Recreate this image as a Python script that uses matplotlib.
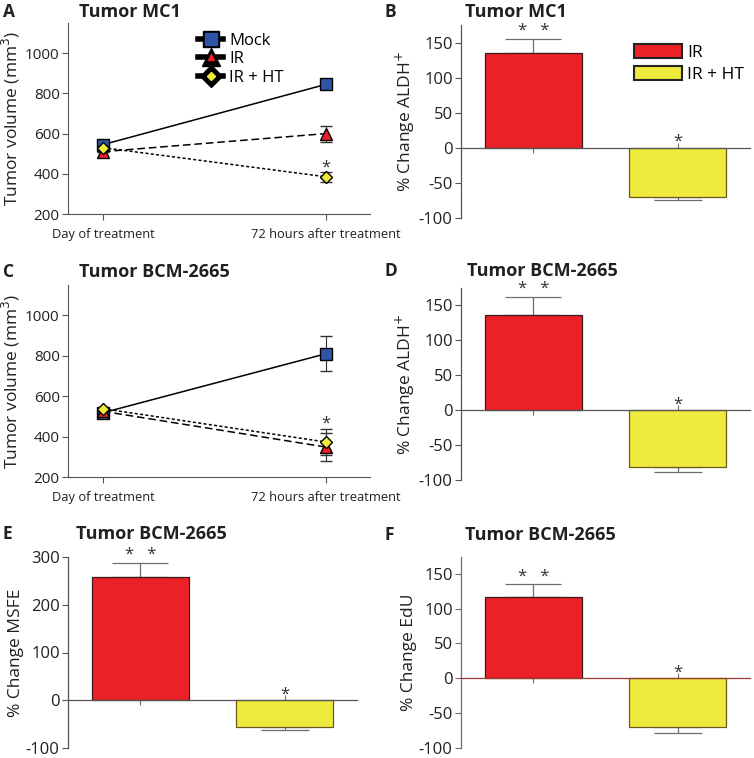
import numpy as np
import matplotlib
matplotlib.use("Agg")
import matplotlib.pyplot as plt
from matplotlib.lines import Line2D
from matplotlib.patches import Patch
from matplotlib.legend_handler import HandlerTuple

plt.rcParams["font.family"] = ["Open Sans", "DejaVu Sans"]
plt.rcParams["axes.unicode_minus"] = False

# ---- data ----
time_labels = ["Day of treatment", "72 hours after treatment"]
groups = ["Mock", "IR", "IR + HT"]

# panel A, tumor MC1 volumes (mm3)
mc1_mock = [545, 845]
mc1_ir = [510, 600]
mc1_ht = [530, 385]
mc1_mock_err = [0, 25]
mc1_ir_err = [0, 40]
mc1_ht_err = [0, 25]

# panel C, tumor BCM-2665 volumes (mm3)
bcm_mock = [518, 810]
bcm_ir = [525, 348]
bcm_ht = [538, 373]
bcm_mock_err = [0, 86]
bcm_ir_err = [0, 68]
bcm_ht_err = [0, 65]

bar_groups = ["IR", "IR + HT"]
aldh_mc1 = [135, -70]
aldh_mc1_err = [20, 4]
aldh_bcm = [137, -82]
aldh_bcm_err = [25, 7]
msfe_bcm = [258, -57]
msfe_bcm_err = [30, 5]
edu_bcm = [116, -70]
edu_bcm_err = [19, 8]

# ---- styles ----
RED = "#EC2127"
YELLOW = "#EEEA3E"
BLUE = "#2F55A9"
GRAY = "#6e6e6e"
TXT = "#231f20"

fig = plt.figure(figsize=(7.54, 7.58), dpi=100)


def fig_axes(left, top, right, bottom):
    W, H = 754, 758
    return fig.add_axes([left / W, 1 - bottom / H, (right - left) / W, (bottom - top) / H])


def line_panel(ax, mock, ir, ht, mock_err, ir_err, ht_err, star_y):
    x = np.arange(len(time_labels))
    styles = [
        (mock, mock_err, "s", BLUE, "-", 8),
        (ir, ir_err, "^", RED, (0, (5, 2.5)), 8.5),
        (ht, ht_err, "D", YELLOW, (0, (2, 1.5)), 6),
    ]
    for vals, err, mk, col, ls, ms in styles:
        ax.errorbar(x, vals, yerr=err, color="black", lw=1.1, ls=ls, marker=mk,
                    mfc=col, mec="black", mew=1.0, ms=ms, capsize=4, elinewidth=0.8,
                    ecolor="#333333", zorder=3)
    ax.text(x[1], star_y, "*", ha="center", va="center", fontsize=12, color="#333333")
    ax.set_xlim(-0.157, 1.197)
    ax.set_ylim(200, 1150)
    ax.set_yticks([200, 400, 600, 800, 1000])
    ax.set_xticks(x)
    ax.set_xticklabels(time_labels, fontsize=9.3, color=TXT)
    ax.set_ylabel("Tumor volume (mm$^3$)", fontsize=12.5, color=TXT, labelpad=2)
    for s in ["top", "right"]:
        ax.spines[s].set_visible(False)
    for s in ["left", "bottom"]:
        ax.spines[s].set_color("#555555")
        ax.spines[s].set_linewidth(0.8)
    ax.tick_params(axis="y", labelsize=11, colors="#555555", labelcolor=TXT, length=4, width=0.8, pad=2)
    ax.tick_params(axis="x", colors="#555555", labelcolor=TXT, length=4, width=0.8, pad=6)


def bar_panel(ax, vals, errs, ylim, yticks, ylabel, axcol="#555555", zerocol="#555555"):
    x = np.arange(len(bar_groups))
    ax.set_axisbelow(True)
    rng = ylim[1] - ylim[0]
    bars = ax.bar(x, vals, width=0.67, color=[RED, YELLOW],
                  edgecolor=["#3a1a1a", "#6b5a1e"], linewidth=0.9, zorder=2)
    for xi, v, e in zip(x, vals, errs):
        ax.errorbar(xi, v, yerr=[[0], [e]] if v > 0 else [[e], [0]], color=GRAY,
                    lw=0.9, capsize=20 if v > 0 else 17, capthick=0.9, fmt="none", zorder=1.5)
        if v > 0:
            ax.text(xi, v + e + 0.04 * rng, "*   *", ha="center", va="center",
                    fontsize=12, color="#333333")
        else:
            ax.text(xi, 0.03 * rng, "*", ha="center", va="center",
                    fontsize=12, color="#333333")
    ax.set_xlim(-0.5, 1.5)
    ax.set_ylim(*ylim)
    ax.set_yticks(yticks)
    ax.set_xticks(x)
    ax.set_xticklabels([])
    ax.spines["bottom"].set_position(("data", 0))
    ax.spines["bottom"].set_color(zerocol)
    ax.spines["bottom"].set_linewidth(0.9)
    ax.spines["left"].set_color(axcol)
    ax.spines["left"].set_linewidth(0.9)
    for s in ["top", "right"]:
        ax.spines[s].set_visible(False)
    ax.tick_params(axis="y", labelsize=12, colors=axcol, labelcolor=TXT, length=4, width=0.8, pad=2)
    ax.tick_params(axis="x", colors=GRAY, direction="inout", length=7, width=0.8)
    ax.set_ylabel(ylabel, fontsize=12.5, color=TXT, labelpad=1)
    return bars


def titles(ax, letter, title, lx, tx, ty):
    fig.text(lx / 754, 1 - ty / 758, letter, fontsize=12.5, fontweight="bold", color=TXT, va="center")
    fig.text(tx / 754, 1 - ty / 758, title, fontsize=13, fontweight="bold", color=TXT, va="center")


# A
axA = fig_axes(68, 23, 370, 214)
line_panel(axA, mc1_mock, mc1_ir, mc1_ht, mc1_mock_err, mc1_ir_err, mc1_ht_err, 432)
handles = []
for mk, col, big, small in [("s", BLUE, 11, 9), ("^", RED, 13, 4.5), ("D", YELLOW, 11, 4.5)]:
    back = Line2D([], [], color="black", lw=4, marker=mk, ms=big, mfc="black", mec="black")
    front = Line2D([], [], ls="none", marker=mk, ms=small, mfc=col, mec=col)
    handles.append((back, front))
axA.legend(handles, groups, handler_map={tuple: HandlerTuple(ndivide=1, pad=0)},
           loc="upper left", bbox_to_anchor=(0.41, 0.985), frameon=False, fontsize=12,
           handlelength=1.5, handletextpad=0.35, labelspacing=0.15, borderaxespad=0)
titles(axA, "A", "Tumor MC1", 3, 79, 12)

# B
axB = fig_axes(461, 25, 750, 218)
bar_panel(axB, aldh_mc1, aldh_mc1_err, (-100, 175), [-100, -50, 0, 50, 100, 150],
          "% Change ALDH$^{+}$")
axB.legend([Patch(facecolor=RED, edgecolor="#222222", lw=1.5),
            Patch(facecolor=YELLOW, edgecolor="#222222", lw=1.5)], bar_groups,
           loc="upper left", bbox_to_anchor=(0.575, 0.935), frameon=False, fontsize=12.5,
           handlelength=2.75, handleheight=0.85, handletextpad=0.3, labelspacing=0.25,
           borderaxespad=0)
titles(axB, "B", "Tumor MC1", 385, 465, 12)

# C
axC = fig_axes(68, 285, 370, 477)
line_panel(axC, bcm_mock, bcm_ir, bcm_ht, bcm_mock_err, bcm_ir_err, bcm_ht_err, 462)
titles(axC, "C", "Tumor BCM-2665", 3, 79, 272)

# D
axD = fig_axes(461, 288, 750, 480)
bar_panel(axD, aldh_bcm, aldh_bcm_err, (-100, 175), [-100, -50, 0, 50, 100, 150],
          "% Change ALDH$^{+}$")
titles(axD, "D", "Tumor BCM-2665", 385, 467, 271)

# E
axE = fig_axes(68, 557, 357, 748)
bar_panel(axE, msfe_bcm, msfe_bcm_err, (-100, 300), [-100, 0, 100, 200, 300],
          "% Change MSFE")
titles(axE, "E", "Tumor BCM-2665", 3, 76, 534)

# F
axF = fig_axes(461, 557, 750, 748)
bar_panel(axF, edu_bcm, edu_bcm_err, (-100, 174), [-100, -50, 0, 50, 100, 150],
          "% Change EdU", axcol="#7a6a66", zerocol="#9a3a30")
titles(axF, "F", "Tumor BCM-2665", 385, 465, 535)

fig.savefig("out.png", dpi=100)
